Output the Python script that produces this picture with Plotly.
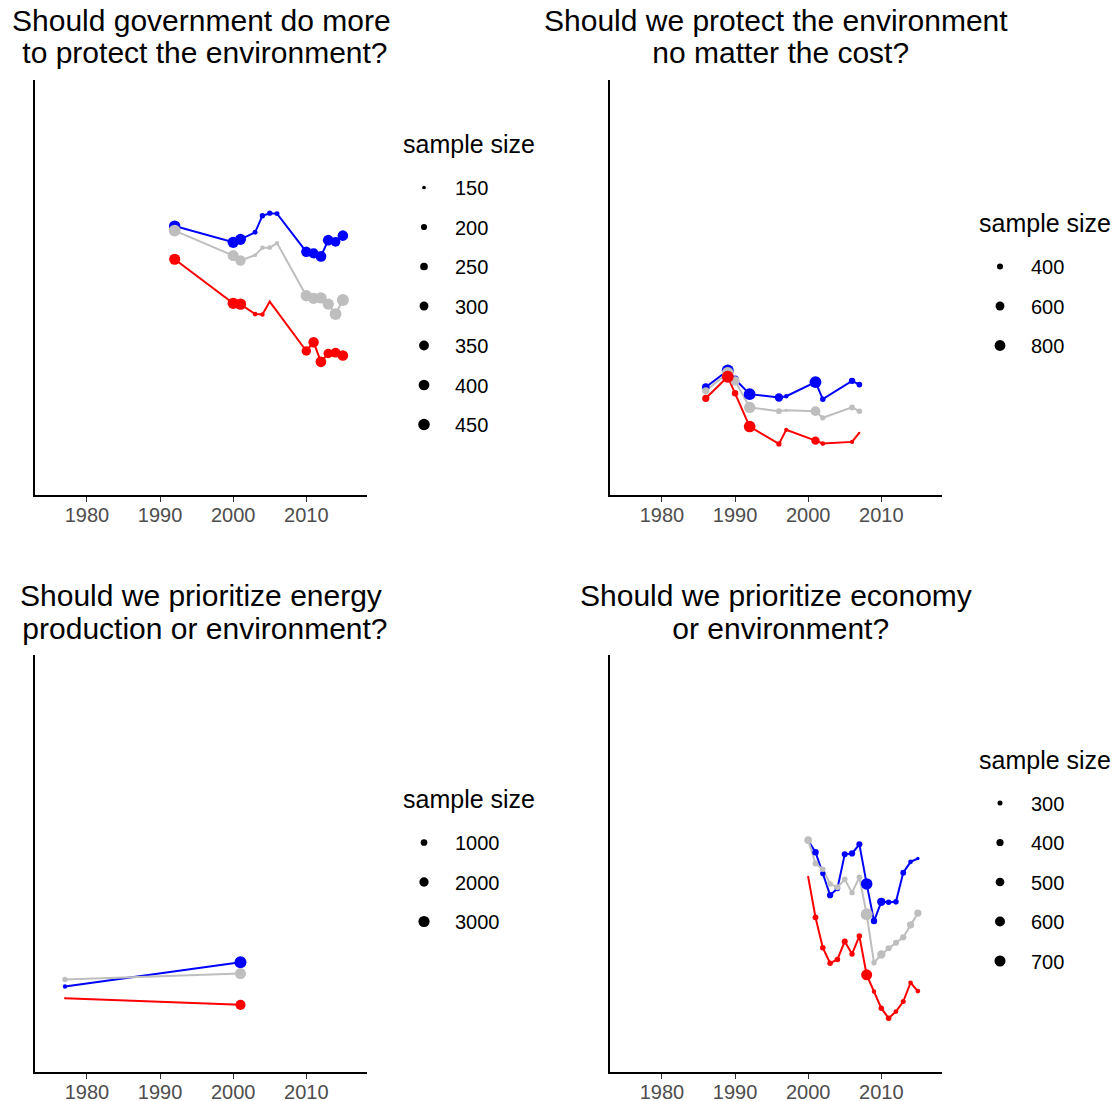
import math
import plotly.graph_objects as go

# page offset (browser body margin) and figure size
OFF = 8
W, H = 1111, 1093
FONT = "Liberation Sans, Arial, sans-serif"
COLORS = {"blue": "#0000FF", "grey": "#BEBEBE", "red": "#FF0000"}
SERIES = ["blue", "grey", "red"]

# ---------------- Data ----------------
# Panel 1: Should government do more to protect the environment?
gov_years = [1992, 2000, 2001, 2003, 2004, 2005, 2006, 2010, 2011, 2012, 2013, 2014, 2015]
gov_blue = [0.648, 0.609, 0.616, 0.633, 0.673, 0.679, 0.678, 0.586, 0.582, 0.575, 0.614, 0.610, 0.625]
gov_grey = [0.637, 0.577, 0.565, 0.578, 0.596, 0.596, 0.607, 0.480, 0.474, 0.475, 0.460, 0.436, 0.470]
gov_red = [0.568, 0.462, 0.460, 0.436, 0.435, 0.466, None, 0.347, 0.368, 0.321, 0.341, 0.343, 0.336]
gov_blue_n = [440, 430, 420, 170, 180, 175, 170, 380, 370, 400, 400, 340, 390]
gov_grey_n = [470, 420, 380, 150, 160, 165, 155, 440, 430, 440, 430, 470, 480]
gov_red_n = [420, 430, 440, 165, 160, 140, None, 330, 380, 400, 330, 350, 390]
gov_breaks = [150, 200, 250, 300, 350, 400, 450]

# Panel 2: Should we protect the environment no matter the cost?
cost_years = [1986, 1989, 1990, 1992, 1996, 1997, 2001, 2002, 2006, 2007]
cost_blue = [0.260, 0.300, 0.279, 0.243, 0.235, 0.238, 0.272, 0.231, 0.275, 0.266]
cost_grey = [0.251, 0.294, 0.275, 0.211, 0.202, 0.204, 0.202, 0.186, 0.211, 0.202]
cost_red = [0.233, 0.285, 0.245, 0.165, 0.123, 0.157, 0.131, 0.124, 0.128, 0.150]
cost_blue_n = [490, 940, 490, 920, 560, 330, 930, 370, 420, 380]
cost_grey_n = [480, 930, 650, 850, 380, 300, 680, 360, 380, 370]
cost_red_n = [470, 930, 420, 900, 360, 320, 560, 340, 320, 290]
cost_breaks = [400, 600, 800]

# Panel 3: Should we prioritize energy production or environment?
energy_years = [1977, 2001]
energy_blue = [0.205, 0.263]
energy_grey = [0.222, 0.236]
energy_red = [0.177, 0.161]
energy_blue_n = [480, 3500]
energy_grey_n = [655, 2920]
energy_red_n = [300, 2400]
energy_breaks = [1000, 2000, 3000]

# Panel 4: Should we prioritize economy or environment?
econ_years = [2000, 2001, 2002, 2003, 2004, 2005, 2006, 2007, 2008, 2009, 2010, 2011, 2012, 2013, 2014, 2015]
econ_blue = [0.555, 0.527, 0.476, 0.424, 0.440, 0.522, 0.524, 0.546, 0.451, 0.362, 0.408, 0.407, 0.408, 0.478, 0.504, 0.512]
econ_grey = [0.556, 0.500, 0.486, 0.451, 0.443, 0.462, 0.430, 0.467, 0.378, 0.262, 0.282, 0.297, 0.310, 0.323, 0.353, 0.381]
econ_red = [0.468, 0.371, 0.298, 0.261, 0.270, 0.313, 0.283, 0.326, 0.233, 0.193, 0.153, 0.129, 0.145, 0.169, 0.214, 0.194]
econ_blue_n = [320, 360, 310, 350, 320, 340, 350, 340, 750, 360, 480, 320, 320, 330, 290, 260]
econ_grey_n = [420, 330, 320, 320, 340, 320, 310, 320, 800, 310, 480, 340, 340, 350, 400, 410]
econ_red_n = [250, 330, 320, 320, 320, 340, 310, 320, 700, 280, 320, 320, 290, 300, 290, 290]
econ_breaks = [300, 400, 500, 600, 700]

x_ticks = [1980, 1990, 2000, 2010]

panels = [
    dict(title=["Should government do more", "\u00a0to protect the environment?"],
         years=gov_years, vals=[gov_blue, gov_grey, gov_red],
         ns=[gov_blue_n, gov_grey_n, gov_red_n], breaks=gov_breaks,
         box=(35, 367, 80, 495), legx=403),
    dict(title=["Should we protect the environment", "\u00a0no matter the cost?"],
         years=cost_years, vals=[cost_blue, cost_grey, cost_red],
         ns=[cost_blue_n, cost_grey_n, cost_red_n], breaks=cost_breaks,
         box=(610, 942, 80, 495), legx=979),
    dict(title=["Should we prioritize energy", "\u00a0production or environment?"],
         years=energy_years, vals=[energy_blue, energy_grey, energy_red],
         ns=[energy_blue_n, energy_grey_n, energy_red_n], breaks=energy_breaks,
         box=(35, 367, 655, 1072), legx=403),
    dict(title=["Should we prioritize economy", "\u00a0or environment?"],
         years=econ_years, vals=[econ_blue, econ_grey, econ_red],
         ns=[econ_blue_n, econ_grey_n, econ_red_n], breaks=econ_breaks,
         box=(610, 942, 655, 1072), legx=979),
]

D_MIN, D_MAX = 2.0, 12.0
ITEM_STEP = 39.5
TITLE_GAP = 43


def px_x(v):
    return (v - OFF) / W


def px_y(v):
    return 1 - (v - OFF) / H


fig = go.Figure()
annotations = []
layout = dict(
    width=W, height=H, autosize=False,
    margin=dict(l=0, r=0, t=0, b=0, pad=0, autoexpand=False),
    paper_bgcolor="white", plot_bgcolor="white",
    font=dict(family=FONT, color="black"),
    showlegend=True,
)

for i, p in enumerate(panels):
    k = "" if i == 0 else str(i + 1)
    xa, ya = "x" + k, "y" + k
    legname = "legend" + k
    allns = [n for ns in p["ns"] for n in ns if n is not None]
    nmin, nmax = min(allns), max(allns)

    def diam(n, nmin=nmin, nmax=nmax):
        if n is None:
            return 0
        t = max(0.0, (n - nmin) / (nmax - nmin))
        return D_MIN + (D_MAX - D_MIN) * math.sqrt(t)

    # lines first
    for s, vals in zip(SERIES, p["vals"]):
        fig.add_trace(go.Scatter(
            x=p["years"], y=vals, mode="lines", connectgaps=True,
            line=dict(color=COLORS[s], width=2), xaxis=xa, yaxis=ya,
            showlegend=False, hoverinfo="skip"))
    # then points
    for s, vals, ns in zip(SERIES, p["vals"], p["ns"]):
        fig.add_trace(go.Scatter(
            x=p["years"], y=vals, mode="markers",
            marker=dict(color=COLORS[s], size=[diam(n) for n in ns],
                        opacity=1, line=dict(width=0)),
            xaxis=xa, yaxis=ya, showlegend=False))
    # legend entries
    for b in p["breaks"]:
        fig.add_trace(go.Scatter(
            x=[None], y=[None], mode="markers", name=str(b),
            marker=dict(color="black", size=diam(b), opacity=1),
            xaxis=xa, yaxis=ya, legend=legname, legendgroup=f"{i}_{b}",
            showlegend=True))

    x0, x1, y0, y1 = p["box"]
    layout["xaxis" + k] = dict(
        domain=[px_x(x0), px_x(x1)], anchor=ya, range=[1972.9, 2018.3],
        tickvals=x_ticks, ticktext=[str(t) for t in x_ticks],
        showline=True, linecolor="black", linewidth=1.6, mirror=False,
        ticks="outside", ticklen=5, tickwidth=1.4, tickcolor="#333333",
        ticklabelstandoff=-4, automargin=False,
        tickfont=dict(size=20, color="#4D4D4D", family=FONT),
        showgrid=False, zeroline=False, fixedrange=True)
    layout["yaxis" + k] = dict(
        domain=[px_y(y1), px_y(y0)], anchor=xa, range=[0, 1],
        showline=True, linecolor="black", linewidth=1.6, automargin=False,
        showticklabels=False, ticks="", showgrid=False, zeroline=False,
        fixedrange=True)

    # legend block placement (title + items centred on panel)
    m = len(p["breaks"])
    pc = (y0 + y1) / 2 - 2.5
    t_center = pc - (TITLE_GAP + ITEM_STEP * (m - 1)) / 2
    first_item = t_center + TITLE_GAP
    annotations.append(dict(
        text="sample size", x=px_x(p["legx"] - 2), y=px_y(t_center - 1),
        xref="paper", yref="paper", xanchor="left", yanchor="middle",
        showarrow=False, font=dict(size=25, family=FONT, color="black")))
    layout[legname] = dict(
        x=px_x(p["legx"] - 10), xanchor="left",
        y=px_y(first_item - 20), yanchor="top",
        font=dict(size=20, family=FONT, color="black"),
        itemsizing="trace", itemwidth=52, traceorder="grouped",
        tracegroupgap=10.5, bgcolor="rgba(0,0,0,0)", borderwidth=0)

    cx = (x0 + x1) / 2
    for j, line in enumerate(p["title"]):
        cy = (y0 - 60) + 33 * j
        annotations.append(dict(
            text=line, x=px_x(cx), y=px_y(cy), xref="paper", yref="paper",
            xanchor="center", yanchor="middle", showarrow=False,
            font=dict(size=30, family=FONT, color="black")))

layout["annotations"] = annotations
fig.update_layout(**layout)
fig.write_html("out.html")
